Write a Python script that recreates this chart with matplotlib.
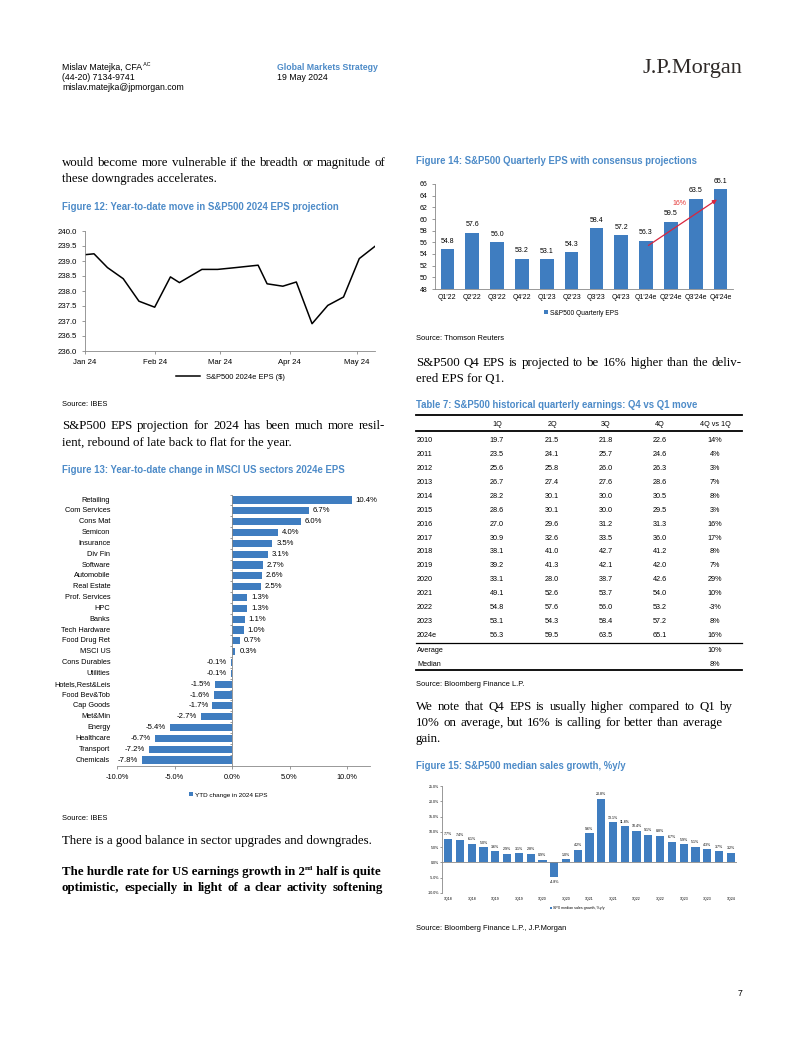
import matplotlib
matplotlib.use("Agg")
import matplotlib.pyplot as plt
import matplotlib.dates as mdates
from matplotlib.lines import Line2D
import pandas as pd

W, H = 802, 1037
BAR = '#3f7dc0'
TITLE = '#4d8bc8'
SANS = ['Liberation Sans', 'DejaVu Sans']
SERIF = ['Liberation Serif', 'DejaVu Serif']
BODY = 9.3

# Figure 12 - S&P500 2024e EPS
eps_dates = ['2024-01-01', '2024-01-05', '2024-01-11', '2024-01-18', '2024-01-25',
             '2024-02-01', '2024-02-08', '2024-02-12', '2024-02-22', '2024-02-29',
             '2024-03-08', '2024-03-18', '2024-03-22', '2024-03-29', '2024-04-04',
             '2024-04-11', '2024-04-18', '2024-04-25', '2024-05-02', '2024-05-09']
eps_vals = [239.21, 239.24, 238.78, 238.41, 237.66, 237.46, 238.47, 238.28, 238.72, 238.72,
            238.78, 238.86, 238.24, 238.16, 238.30, 236.91, 237.52, 237.80, 239.08, 239.49]

# Figure 13 - MSCI US sectors
sectors = ['Retailing', 'Com Services', 'Cons Mat', 'Semicon', 'Insurance', 'Div Fin',
           'Software', 'Automobile', 'Real Estate', 'Prof. Services', 'HPC', 'Banks',
           'Tech Hardware', 'Food Drug Ret', 'MSCI US', 'Cons Durables', 'Utilities',
           'Hotels,Rest&Leis', 'Food Bev&Tob', 'Cap Goods', 'Met&Min', 'Energy',
           'Healthcare', 'Transport', 'Chemicals']
sector_chg = [10.4, 6.7, 6.0, 4.0, 3.5, 3.1, 2.7, 2.6, 2.5, 1.3, 1.3, 1.1, 1.0, 0.7, 0.3,
              -0.1, -0.1, -1.5, -1.6, -1.7, -2.7, -5.4, -6.7, -7.2, -7.8]

# Figure 14 - quarterly EPS
quarters = ["Q1'22", "Q2'22", "Q3'22", "Q4'22", "Q1'23", "Q2'23", "Q3'23", "Q4'23",
            "Q1'24e", "Q2'24e", "Q3'24e", "Q4'24e"]
q_eps = [54.8, 57.6, 56.0, 53.2, 53.1, 54.3, 58.4, 57.2, 56.3, 59.5, 63.5, 65.1]

# Table 7
tbl_cols = ['1Q', '2Q', '3Q', '4Q', '4Q vs 1Q']
tbl_years = ['2010', '2011', '2012', '2013', '2014', '2015', '2016', '2017', '2018',
             '2019', '2020', '2021', '2022', '2023', '2024e']
tbl_q1 = [19.7, 23.5, 25.6, 26.7, 28.2, 28.6, 27.0, 30.9, 38.1, 39.2, 33.1, 49.1, 54.8, 53.1, 56.3]
tbl_q2 = [21.5, 24.1, 25.8, 27.4, 30.1, 30.1, 29.6, 32.6, 41.0, 41.3, 28.0, 52.6, 57.6, 54.3, 59.5]
tbl_q3 = [21.8, 25.7, 26.0, 27.6, 30.0, 30.0, 31.2, 33.5, 42.7, 42.1, 38.7, 53.7, 56.0, 58.4, 63.5]
tbl_q4 = [22.6, 24.6, 26.3, 28.6, 30.5, 29.5, 31.3, 36.0, 41.2, 42.0, 42.6, 54.0, 53.2, 57.2, 65.1]
tbl_move = ['14%', '4%', '3%', '7%', '8%', '3%', '16%', '17%', '8%', '7%', '29%', '10%',
            '-3%', '8%', '16%']
tbl_avg, tbl_med = '10%', '8%'

# Figure 15 - median sales growth
sales_q = ['1Q18', '2Q18', '3Q18', '4Q18', '1Q19', '2Q19', '3Q19', '4Q19', '1Q20', '2Q20',
           '3Q20', '4Q20', '1Q21', '2Q21', '3Q21', '4Q21', '1Q22', '2Q22', '3Q22', '4Q22',
           '1Q23', '2Q23', '3Q23', '4Q23', '1Q24']
sales_g = [7.7, 7.4, 6.1, 5.0, 3.6, 2.9, 3.1, 2.8, 0.9, -4.8, 1.0, 4.2, 9.6, 20.8, 13.1,
           11.8, 10.4, 9.1, 8.8, 6.7, 5.9, 5.1, 4.3, 3.7, 3.2]

fig = plt.figure(figsize=(W / 100, H / 100), dpi=100)
rend = fig.canvas.get_renderer()


def txt(x, y, s, size=BODY, family=SERIF, **kw):
    kw.setdefault('va', 'center')
    return fig.text(x / W, 1 - y / H, s, fontsize=size, family=family, **kw)


def runs(x, y, parts, family=SERIF, **kw):
    # pieces of text one after the other (for superscripts)
    for s, size, dy in parts:
        t = txt(x, y + dy, s, size, family, **kw)
        x += t.get_window_extent(rend).width


def justify(x0, x1, y, s, size=BODY, **kw):
    # spread the words of one line between x0 and x1
    words = s.split(' ')
    items = [txt(x0, y, w, size, **kw) for w in words]
    widths = [t.get_window_extent(rend).width for t in items]
    gap = (x1 - x0 - sum(widths)) / max(len(words) - 1, 1)
    x = x0
    for t, w in zip(items, widths):
        t.set_x(x / W)
        x += w + gap


def box(x0, y0, x1, y1):
    return fig.add_axes([x0 / W, 1 - y1 / H, (x1 - x0) / W, (y1 - y0) / H])


def hline(x0, x1, y, lw=1.0):
    fig.add_artist(Line2D([x0 / W, x1 / W], [1 - y / H] * 2, color='black', lw=lw))


def style(ax):
    for s in ['top', 'right']:
        ax.spines[s].set_visible(False)
    for s in ['left', 'bottom']:
        ax.spines[s].set_color('#888888')
        ax.spines[s].set_linewidth(0.6)
    ax.tick_params(colors='#888888', width=0.6, length=2, labelcolor='black')


# header
runs(62, 67, [('Mislav Matejka, CFA', 6.3, 0), (' AC', 3.8, -3)], family=SANS)
txt(62, 77, '(44-20) 7134-9741', 6.3, SANS)
txt(62, 87, 'mislav.matejka@jpmorgan.com', 6.3, SANS)
txt(277, 67, 'Global Markets Strategy', 6.3, SANS, color=TITLE, weight='bold')
txt(277, 77, '19 May 2024', 6.3, SANS)
txt(742, 69, 'J.P.Morgan', 16, SERIF, ha='right', color='#2f2a28')

# left column text
justify(62, 385, 163, 'would become more vulnerable if the breadth or magnitude of')
txt(62, 179, 'these downgrades accelerates.')
txt(62, 207, 'Figure 12: Year-to-date move in S&P500 2024 EPS projection', 6.9, SANS,
    color=TITLE, weight='bold')

ax = box(85, 231, 375, 351)
style(ax)
ax.plot(pd.to_datetime(eps_dates), eps_vals, color='black', lw=1.1, label='S&P500 2024e EPS ($)')
ax.set_ylim(236, 240)
ax.set_yticks([236 + 0.5 * i for i in range(9)])
ax.set_yticklabels([f'{236 + 0.5 * i:.1f}' for i in range(9)], fontsize=5.6, family=SANS)
ax.set_xlim(pd.Timestamp('2024-01-01'), pd.Timestamp('2024-05-09'))
ax.xaxis.set_major_locator(mdates.MonthLocator())
ax.xaxis.set_major_formatter(mdates.DateFormatter('%b %y'))
for lb in ax.get_xticklabels():
    lb.set_fontsize(5.6)
    lb.set_family(SANS)
ax.legend(loc='center', bbox_to_anchor=(0.5, -0.22), frameon=False,
          prop={'family': SANS, 'size': 5.4}, handlelength=3.2)
txt(62, 404, 'Source: IBES', 5.4, SANS)

justify(62, 385, 426, 'S&P500 EPS projection for 2024 has been much more resil-')
txt(62, 443, 'ient, rebound of late back to flat for the year.')
txt(62, 470, 'Figure 13: Year-to-date change in MSCI US sectors 2024e EPS', 6.9, SANS,
    color=TITLE, weight='bold')

ax = box(117, 494.6, 370, 766)
style(ax)
pos = list(range(len(sectors)))
ax.barh(pos, sector_chg, height=0.66, color=BAR, label='YTD change in 2024 EPS')
ax.set_ylim(24.55, -0.5)
ax.set_xlim(-10, 12)
ax.spines['left'].set_position(('data', 0))
ax.set_yticks([p + 0.5 for p in pos[:-1]] + [-0.5])
ax.set_yticklabels([])
ax.tick_params(axis='y', length=1.5)
ax.set_xticks([-10, -5, 0, 5, 10])
ax.set_xticklabels(['-10.0%', '-5.0%', '0.0%', '5.0%', '10.0%'], fontsize=5.3, family=SANS)
tr = ax.get_yaxis_transform()
for p, name, v in zip(pos, sectors, sector_chg):
    ax.text(-0.027, p, name, transform=tr, ha='right', va='center', fontsize=5.3, family=SANS)
    ax.text(v + (0.35 if v >= 0 else -0.35), p, f'{v:.1f}%', ha='left' if v >= 0 else 'right',
            va='center', fontsize=5.6, family=SANS)
ax.legend(loc='center', bbox_to_anchor=(0.44, -0.107), frameon=False,
          prop={'family': SANS, 'size': 4.6}, handlelength=0.6, handleheight=0.6,
          handletextpad=0.3)
txt(62, 819, 'Source: IBES', 5.4, SANS)

txt(62, 841, 'There is a good balance in sector upgrades and downgrades.')
runs(62, 872, [('The hurdle rate for US earnings growth in 2', BODY, 0),
               ('nd', 5.4, -3), (' half is quite', BODY, 0)], weight='bold')
justify(62, 383, 888, 'optimistic, especially in light of a clear activity softening',
        weight='bold')

# right column
txt(416, 161, 'Figure 14: S&P500 Quarterly EPS with consensus projections', 6.9, SANS,
    color=TITLE, weight='bold')
ax = box(435, 184, 733, 289)
style(ax)
qx = list(range(len(quarters)))
ax.bar(qx, q_eps, width=0.55, color=BAR, label='S&P500 Quarterly EPS')
ax.set_ylim(48, 66)
ax.set_xlim(-0.5, len(quarters) - 0.5)
ax.set_yticks(range(48, 67, 2))
ax.set_yticklabels([str(v) for v in range(48, 67, 2)], fontsize=5.0, family=SANS)
ax.set_xticks(qx)
ax.set_xticklabels(quarters, fontsize=5.0, family=SANS)
ax.tick_params(axis='x', length=0)
for i, v in zip(qx, q_eps):
    ax.text(i, v + 0.8, f'{v:.1f}', ha='center', va='bottom', fontsize=5.0, family=SANS)
ax.annotate('', xy=(10.95, q_eps[-1] - 1.5), xytext=(8, q_eps[8] - 1.1),
            arrowprops=dict(arrowstyle='-|>', color='#d8263f', lw=0.9, mutation_scale=6))
ax.text(9.35, 62.6, '16%', color='#e53b3b', fontsize=5.0, family=SANS, ha='center', va='center')
ax.legend(loc='center', bbox_to_anchor=(0.49, -0.23), frameon=False,
          prop={'family': SANS, 'size': 4.8}, handlelength=0.6, handleheight=0.6,
          handletextpad=0.3)
txt(416, 338, 'Source: Thomson Reuters', 5.4, SANS)

justify(416, 742, 363, 'S&P500 Q4 EPS is projected to be 16% higher than the deliv-')
txt(416, 379, 'ered EPS for Q1.')
txt(416, 405, 'Table 7: S&P500 historical quarterly earnings: Q4 vs Q1 move', 6.9, SANS,
    color=TITLE, weight='bold')

# table 7
col_x = [497, 552, 606, 660, 715]
hline(416, 742, 415, 1.3)
for cx, c in zip(col_x, tbl_cols):
    txt(cx, 424, c, 5.2, SANS, ha='center')
hline(416, 742, 431, 1.3)
for r, yr in enumerate(tbl_years):
    ry = 441 + r * 13.86
    txt(417, ry, yr, 5.2, SANS)
    vals = [f'{tbl_q1[r]:.1f}', f'{tbl_q2[r]:.1f}', f'{tbl_q3[r]:.1f}', f'{tbl_q4[r]:.1f}',
            tbl_move[r]]
    for cx, v in zip(col_x, vals):
        txt(cx, ry, v, 5.2, SANS, ha='center')
hline(416, 742, 643, 0.9)
txt(417, 650.5, 'Average', 5.2, SANS)
txt(col_x[-1], 650.5, tbl_avg, 5.2, SANS, ha='center')
txt(417, 664, 'Median', 5.2, SANS)
txt(col_x[-1], 664, tbl_med, 5.2, SANS, ha='center')
hline(416, 742, 670, 1.3)
txt(416, 684, 'Source: Bloomberg Finance L.P.', 5.4, SANS)

justify(416, 733, 707, 'We note that Q4 EPS is usually higher compared to Q1 by')
justify(416, 723, 723, '10% on average, but 16% is calling for better than average')
txt(416, 739, 'gain.')
txt(416, 766, 'Figure 15: S&P500 median sales growth, %y/y', 6.9, SANS, color=TITLE,
    weight='bold')

ax = box(442.4, 786, 736.6, 893)
style(ax)
sx = list(range(len(sales_q)))
ax.bar(sx, sales_g, width=0.7, color=BAR, label='SPX median sales growth, %y/y')
ax.set_ylim(-10, 25)
ax.set_xlim(-0.5, len(sales_q) - 0.5)
ax.spines['bottom'].set_visible(False)
ax.axhline(0, color='#888888', lw=0.6)
ax.set_yticks(range(-10, 26, 5))
ax.set_yticklabels([f'{v:.1f}%' for v in range(-10, 26, 5)], fontsize=2.6, family=SANS)
ax.set_xticks(sx[::2])
ax.set_xticklabels(sales_q[::2], fontsize=2.6, family=SANS)
ax.tick_params(axis='x', length=0, pad=3)
ax.tick_params(axis='y', length=1.2, pad=1)
for i, v in zip(sx, sales_g):
    ax.text(i, v + (0.8 if v >= 0 else -0.8), f'{v:.1f}%', ha='center',
            va='bottom' if v >= 0 else 'top', fontsize=2.6, family=SANS)
ax.legend(loc='center', bbox_to_anchor=(0.46, -0.14), frameon=False,
          prop={'family': SANS, 'size': 2.6}, handlelength=0.5, handleheight=0.5,
          handletextpad=0.3)
txt(416, 928, 'Source: Bloomberg Finance L.P., J.P.Morgan', 5.4, SANS)

txt(742, 994, '7', 6.3, SANS, ha='right')

fig.savefig('out.png', dpi=100)
